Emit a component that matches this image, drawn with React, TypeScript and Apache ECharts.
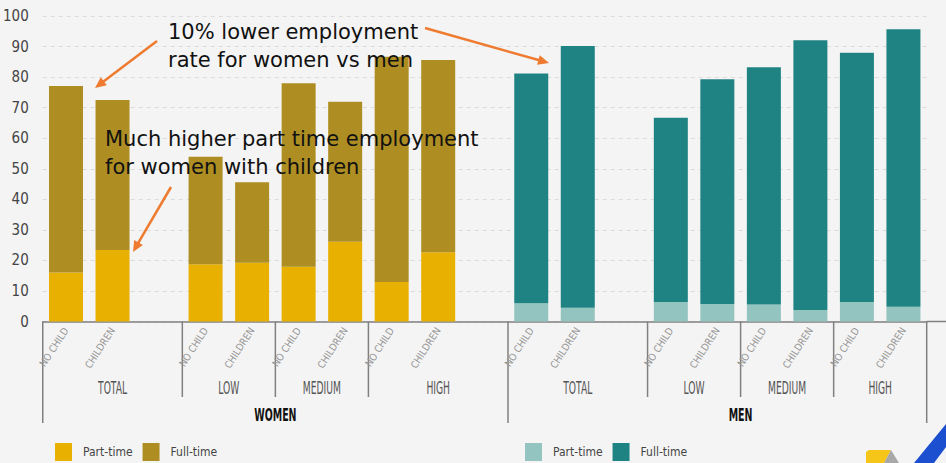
import React, { useEffect, useRef } from "react";
import * as echarts from "echarts";

// ---- data ----
const categoryKeys = [
  "W-TOTAL-NC", "W-TOTAL-CH", "W-GAP1",
  "W-LOW-NC", "W-LOW-CH", "W-MED-NC", "W-MED-CH", "W-HIGH-NC", "W-HIGH-CH", "W-GAP2",
  "M-TOTAL-NC", "M-TOTAL-CH", "M-GAP1",
  "M-LOW-NC", "M-LOW-CH", "M-MED-NC", "M-MED-CH", "M-HIGH-NC", "M-HIGH-CH",
];
const categoryLabels = [
  "NO CHILD", "CHILDREN", "",
  "NO CHILD", "CHILDREN", "NO CHILD", "CHILDREN", "NO CHILD", "CHILDREN", "",
  "NO CHILD", "CHILDREN", "",
  "NO CHILD", "CHILDREN", "NO CHILD", "CHILDREN", "NO CHILD", "CHILDREN",
];
const E = "-";
const womenPartTime = [16.0, 23.4, E, 18.7, 19.2, 17.9, 26.1, 12.9, 22.7, E, E, E, E, E, E, E, E, E, E];
const womenFullTime = [61.1, 49.1, E, 35.2, 26.4, 60.1, 45.8, 73.8, 62.9, E, E, E, E, E, E, E, E, E, E];
const menPartTime = [E, E, E, E, E, E, E, E, E, E, 6.0, 4.5, E, 6.4, 5.7, 5.6, 3.8, 6.4, 4.8];
const menFullTime = [E, E, E, E, E, E, E, E, E, E, 75.2, 85.7, E, 60.3, 73.6, 77.6, 88.3, 81.6, 90.9];

const yTicks = { min: 0, max: 100, interval: 10 };

// groups: [label, startBoundary, endBoundary]
const subGroups: [string, number, number][] = [
  ["TOTAL", 0, 3], ["LOW", 3, 5], ["MEDIUM", 5, 7], ["HIGH", 7, 10],
  ["TOTAL", 10, 13], ["LOW", 13, 15], ["MEDIUM", 15, 17], ["HIGH", 17, 19],
];
const topGroups: [string, number, number][] = [["WOMEN", 0, 10], ["MEN", 10, 20]];
const longLines = [0, 10, 19];
const shortLines = [3, 5, 7, 13, 15, 17];

const COLORS = {
  womenPart: "#E8B000",
  womenFull: "#AE8E22",
  menPart: "#93C4BF",
  menFull: "#208383",
  bg: "#F4F4F4",
  arrow: "#EE7B30",
};

const NARROW = "'Liberation Sans Narrow', 'DejaVu Sans Condensed', 'Roboto Condensed', Arial, sans-serif";

function arrow(x1: number, y1: number, x2: number, y2: number) {
  const dx = x2 - x1, dy = y2 - y1;
  const len = Math.sqrt(dx * dx + dy * dy);
  const ux = dx / len, uy = dy / len;
  const hl = 11, hw = 5;
  const bx = x2 - ux * hl, by = y2 - uy * hl;
  return [
    { type: "line", shape: { x1, y1, x2: bx + ux * 2, y2: by + uy * 2 }, style: { stroke: COLORS.arrow, lineWidth: 2.5 }, z: 100 },
    {
      type: "polygon",
      shape: { points: [[x2, y2], [bx - uy * hw, by + ux * hw], [bx + uy * hw, by - ux * hw]] },
      style: { fill: COLORS.arrow }, z: 100,
    },
  ];
}

export default function App() {
  const ref = useRef<HTMLDivElement>(null);
  useEffect(() => {
    if (!ref.current) return;
    const chart = echarts.init(ref.current, undefined, { renderer: "svg" });
    const gridLeft = 41, gridRight = 19.3, gridTop = 16, gridBottom = 141.5;
    const legendBase = {
      top: 438, itemWidth: 17, itemHeight: 18, itemGap: 10, icon: "rect",
      formatter: (n: string) => n.trim(),
      textStyle: { fontFamily: NARROW, fontSize: 12, color: "#444", padding: [0, 0, 0, 6] },
      selectedMode: false,
    };
    const option: any = {
      animation: false,
      backgroundColor: COLORS.bg,
      grid: { left: gridLeft, right: gridRight, top: gridTop, bottom: gridBottom, containLabel: false },
      legend: [
        { ...legendBase, left: 50, data: ["Part-time", "Full-time"] },
        { ...legendBase, left: 520, data: ["Part-time ", "Full-time "] },
      ],
      xAxis: {
        type: "category",
        data: categoryKeys,
        axisLine: { lineStyle: { color: "#808080", width: 1.5 } },
        axisTick: { length: 15, lineStyle: { color: "#808080", width: 1.5 } },
        axisLabel: {
          interval: 0,
          rotate: 57,
          margin: 7,
          fontFamily: NARROW,
          fontSize: 10,
          color: "#969696",
          formatter: (_v: string, i: number) => categoryLabels[i],
        },
      },
      yAxis: {
        type: "value",
        min: yTicks.min, max: yTicks.max, interval: yTicks.interval,
        axisLine: { show: false },
        axisTick: { show: false },
        axisLabel: { fontFamily: NARROW, fontSize: 15, color: "#444", margin: 14 },
        splitLine: { lineStyle: { color: "#dcdcdc", type: [4, 4], width: 1 } },
      },
      series: [
        { name: "Part-time", type: "bar", stack: "all", data: womenPartTime, barWidth: 34, itemStyle: { color: COLORS.womenPart } },
        { name: "Full-time", type: "bar", stack: "all", data: womenFullTime, barWidth: 34, itemStyle: { color: COLORS.womenFull } },
        { name: "Part-time ", type: "bar", stack: "all", data: menPartTime, barWidth: 34, itemStyle: { color: COLORS.menPart } },
        { name: "Full-time ", type: "bar", stack: "all", data: menFullTime, barWidth: 34, itemStyle: { color: COLORS.menFull } },
      ],
    };
    chart.setOption(option);

    // boundaries from the axis scale
    const px = (i: number) => chart.convertToPixel({ xAxisIndex: 0 }, i) as number;
    const slot = px(1) - px(0);
    const boundary = (b: number) => px(0) - slot / 2 + b * slot;
    const axisY = chart.convertToPixel({ yAxisIndex: 0 }, 0) as number;

    const graphics: any[] = [];
    graphics.push({ type: "line", shape: { x1: boundary(19), y1: axisY, x2: 946, y2: axisY }, style: { stroke: "#808080", lineWidth: 1.5 } });
    longLines.forEach((b) => {
      graphics.push({ type: "line", shape: { x1: boundary(b), y1: axisY, x2: boundary(b), y2: 423 }, style: { stroke: "#808080", lineWidth: 1.5 } });
    });
    shortLines.forEach((b) => {
      graphics.push({ type: "line", shape: { x1: boundary(b), y1: axisY, x2: boundary(b), y2: 397 }, style: { stroke: "#808080", lineWidth: 1.5 } });
    });
    subGroups.forEach(([label, s, e]) => {
      graphics.push({
        type: "text", x: (boundary(s) + boundary(e)) / 2, y: 388, scaleX: 0.6,
        style: { text: label, fontFamily: NARROW, fontSize: 17, fill: "#555", align: "center", verticalAlign: "middle" },
      });
    });
    topGroups.forEach(([label, s, e]) => {
      graphics.push({
        type: "text", x: (boundary(s) + boundary(e)) / 2, y: 415, scaleX: 0.62,
        style: { text: label, fontFamily: NARROW, fontSize: 17, fontWeight: "bold", fill: "#111", align: "center", verticalAlign: "middle" },
      });
    });
    // annotations
    graphics.push({
      type: "text", x: 168, y: 18, z: 100,
      style: { text: "10% lower employment\nrate for women vs men", fontFamily: "'DejaVu Sans', Verdana, sans-serif", fontSize: 21, lineHeight: 28, fill: "#111", align: "left", verticalAlign: "top" },
    });
    graphics.push({
      type: "text", x: 105, y: 125, z: 100,
      style: { text: "Much higher part time employment\nfor women with children", fontFamily: "'DejaVu Sans', Verdana, sans-serif", fontSize: 21, lineHeight: 28, fill: "#111", align: "left", verticalAlign: "top" },
    });
    graphics.push(...arrow(157, 41, 95, 88));
    graphics.push(...arrow(425, 28, 549, 63));
    graphics.push(...arrow(171, 187, 133, 252));
    // logo corner
    graphics.push({ type: "polygon", shape: { points: [[914, 463], [934, 463], [946, 447], [946, 424]] }, style: { fill: "#1B4FD0" } });
    graphics.push({ type: "polygon", shape: { points: [[866, 463], [866, 452], [869, 450], [891, 450], [884, 463]] }, style: { fill: "#F5C518" } });
    graphics.push({ type: "polygon", shape: { points: [[891, 450], [899, 463], [884, 463]] }, style: { fill: "#A8A8A8" } });

    chart.setOption({ graphic: graphics });
    return () => chart.dispose();
  }, []);
  return <div ref={ref} style={{ position: "absolute", left: 0, top: 0, width: 946, height: 463 }} />;
}
